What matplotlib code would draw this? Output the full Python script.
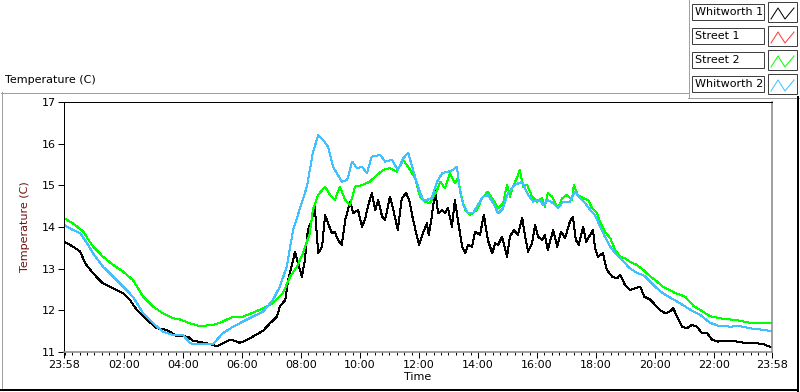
import matplotlib
matplotlib.use('Agg')
import matplotlib.pyplot as plt
from matplotlib.lines import Line2D
from matplotlib.patches import Rectangle

plt.rcParams['font.family'] = ['DejaVu Sans']

# minutes after 23:58 (start of the log)
whit2_t = [0, 18, 33, 47, 59, 79, 100, 120, 140, 161, 181, 201, 222, 242, 256, 262, 303, 323, 344, 372,
           405, 425, 439, 453, 466, 480, 494, 506, 517, 527, 537, 547, 565, 576, 586, 596, 606, 616, 626, 643,
           653, 667, 679, 690, 700, 710, 720, 730, 738, 748, 759, 769, 781, 791, 799, 805, 812, 822, 832, 842,
           852, 862, 873, 883, 893, 903, 917, 932, 942, 954, 968, 974, 984, 995, 1005, 1015, 1029, 1039, 1050, 1060,
           1070, 1080, 1090, 1100, 1111, 1121, 1131, 1141, 1151, 1165, 1178, 1192, 1206, 1218, 1232, 1253, 1273, 1294, 1314, 1334,
           1355, 1375, 1395, 1416, 1440]
whit2_v = [14.05, 13.93, 13.85, 13.61, 13.37, 13.05, 12.81, 12.57, 12.33, 11.93, 11.69, 11.49, 11.41, 11.41, 11.22, 11.19, 11.19, 11.45, 11.61, 11.78,
           11.97, 12.25, 12.57, 13.05, 13.93, 14.45, 14.97, 15.77, 16.21, 16.09, 15.93, 15.45, 15.09, 15.13, 15.57, 15.41, 15.45, 15.29, 15.69, 15.73,
           15.57, 15.61, 15.37, 15.65, 15.78, 15.37, 14.97, 14.65, 14.65, 14.69, 15.09, 15.29, 15.33, 15.37, 15.45, 14.89, 14.53, 14.33, 14.33, 14.53,
           14.73, 14.77, 14.57, 14.33, 14.45, 14.81, 15.01, 15.09, 14.81, 14.61, 14.65, 14.53, 14.65, 14.57, 14.45, 14.61, 14.61, 14.85, 14.69, 14.57,
           14.41, 14.29, 14.01, 13.77, 13.53, 13.37, 13.25, 13.13, 13.01, 12.90, 12.85, 12.69, 12.53, 12.41, 12.31, 12.17, 12.02, 11.89, 11.70, 11.62,
           11.61, 11.62, 11.57, 11.54, 11.50]

street2_t = [0, 18, 39, 59, 79, 100, 120, 140, 161, 181, 201, 222, 236, 256, 277, 303, 323, 344, 364, 384,
             405, 425, 445, 460, 474, 486, 500, 506, 517, 531, 541, 551, 561, 572, 582, 592, 608, 622, 637, 649,
             663, 677, 690, 704, 714, 724, 734, 744, 759, 765, 775, 785, 795, 801, 810, 816, 826, 840, 850, 862,
             873, 883, 893, 901, 907, 913, 921, 927, 934, 942, 952, 962, 972, 978, 984, 993, 999, 1005, 1013, 1023,
             1033, 1037, 1045, 1056, 1066, 1074, 1084, 1090, 1100, 1111, 1121, 1131, 1141, 1151, 1165, 1178, 1192, 1206, 1218, 1232,
             1242, 1263, 1281, 1294, 1314, 1334, 1355, 1375, 1395, 1416, 1440]
street2_v = [14.21, 14.09, 13.89, 13.53, 13.29, 13.09, 12.93, 12.73, 12.33, 12.09, 11.93, 11.81, 11.78, 11.69, 11.62, 11.65, 11.73, 11.85, 11.85, 11.94,
             12.05, 12.17, 12.41, 12.81, 13.05, 13.37, 13.85, 14.41, 14.77, 14.97, 14.77, 14.65, 14.97, 14.65, 14.53, 14.97, 15.01, 15.09, 15.25, 15.37,
             15.41, 15.33, 15.61, 15.37, 15.17, 14.73, 14.61, 14.57, 14.89, 15.09, 14.93, 15.29, 15.05, 15.17, 14.65, 14.41, 14.29, 14.41, 14.69, 14.85,
             14.65, 14.45, 14.57, 15.01, 14.73, 14.97, 15.17, 15.37, 14.97, 15.01, 14.73, 14.61, 14.69, 14.49, 14.81, 14.73, 14.57, 14.45, 14.69, 14.77,
             14.65, 15.01, 14.77, 14.69, 14.65, 14.45, 14.33, 14.13, 13.89, 13.73, 13.45, 13.29, 13.25, 13.17, 13.09, 12.97, 12.82, 12.69, 12.57, 12.49,
             12.42, 12.33, 12.10, 12.01, 11.86, 11.81, 11.78, 11.75, 11.70, 11.69, 11.69]

whit1_t = [0, 18, 33, 43, 59, 79, 100, 120, 134, 148, 169, 189, 209, 230, 252, 262, 291, 311, 338, 358,
           372, 384, 405, 419, 433, 439, 450, 456, 470, 476, 484, 490, 496, 504, 510, 517, 525, 531, 537, 545,
           551, 557, 565, 572, 582, 588, 598, 606, 612, 618, 626, 633, 639, 647, 653, 663, 669, 679, 687, 696,
           702, 710, 718, 722, 730, 738, 742, 748, 755, 761, 769, 775, 781, 789, 795, 801, 810, 816, 822, 830,
           836, 846, 854, 862, 871, 877, 883, 891, 901, 907, 915, 923, 932, 938, 944, 952, 958, 964, 972, 978,
           984, 995, 1003, 1011, 1019, 1029, 1035, 1041, 1047, 1056, 1062, 1068, 1076, 1080, 1086, 1096, 1104, 1115, 1125, 1131,
           1141, 1151, 1161, 1172, 1180, 1192, 1212, 1223, 1232, 1239, 1247, 1257, 1267, 1277, 1287, 1298, 1308, 1318, 1330, 1349,
           1369, 1389, 1409, 1422, 1440]
whit1_v = [13.65, 13.53, 13.41, 13.13, 12.89, 12.65, 12.53, 12.41, 12.25, 12.01, 11.77, 11.57, 11.53, 11.38, 11.37, 11.27, 11.21, 11.14, 11.30, 11.22,
           11.29, 11.37, 11.51, 11.69, 11.85, 12.09, 12.25, 12.73, 13.41, 13.13, 12.81, 13.21, 13.93, 14.17, 14.49, 13.37, 13.53, 14.29, 14.09, 13.85,
           13.89, 13.69, 13.57, 14.17, 14.61, 14.33, 14.41, 14.01, 14.17, 14.49, 14.81, 14.41, 14.65, 14.25, 14.17, 14.73, 14.45, 13.93, 14.69, 14.81,
           14.65, 14.17, 13.77, 13.57, 13.85, 14.09, 13.81, 14.25, 14.89, 14.33, 14.41, 14.33, 14.45, 14.01, 14.65, 14.17, 13.53, 13.37, 13.57, 13.53,
           13.89, 13.81, 14.29, 13.69, 13.37, 13.61, 13.57, 13.77, 13.29, 13.77, 13.93, 13.81, 14.21, 13.77, 13.41, 13.61, 14.05, 13.77, 13.69, 13.81,
           13.45, 13.93, 13.53, 13.89, 13.73, 14.13, 14.25, 13.69, 13.57, 14.01, 13.65, 13.77, 13.93, 13.49, 13.29, 13.37, 12.97, 12.81, 12.77, 12.85,
           12.61, 12.49, 12.53, 12.57, 12.33, 12.26, 12.01, 11.93, 11.97, 12.05, 11.85, 11.61, 11.57, 11.65, 11.61, 11.45, 11.45, 11.30, 11.25, 11.27,
           11.25, 11.21, 11.21, 11.19, 11.11]

legend_names = ['Whitworth 1', 'Street 1', 'Street 2', 'Whitworth 2']
legend_colors = ['#000000', '#ff3838', '#00ff00', '#40c0ff']

tick_pos = [0, 122, 242, 362, 482, 602, 722, 842, 962, 1082, 1202, 1322, 1440]
tick_lab = ['23:58', '02:00', '04:00', '06:00', '08:00', '10:00', '12:00',
            '14:00', '16:00', '18:00', '20:00', '22:00', '23:58']
minor_pos = list(range(2, 1440, 15))

W, H = 800, 392
fig = plt.figure(figsize=(W / 100, H / 100), dpi=100)
fig.patch.set_facecolor('white')


def fx(x):
    return x / W


def fy(y):
    return 1 - y / H


def fline(xs, ys, color, lw=0.72, aa=False):
    fig.add_artist(Line2D([fx(x) for x in xs], [fy(y) for y in ys],
                          transform=fig.transFigure, color=color, lw=lw,
                          antialiased=aa))


# outer panel frame
fline([0.5, 688], [92.5, 92.5], '#a0a0a0')
fline([688.5, 688.5], [0, 97], '#a0a0a0')
fline([688, 800], [97.5, 97.5], '#a0a0a0')
fline([1.5, 1.5], [92, 390], '#a0a0a0')
fline([1, 798], [390, 390], '#000000', 1.44)
fline([797.5, 797.5], [97, 391], '#000000', 1.44)

fig.text(fx(5), fy(80), 'Temperature (C)', fontsize=8, ha='left', va='center')

# legend
for i, (name, col) in enumerate(zip(legend_names, legend_colors)):
    top = 4 + i * 24
    fig.add_artist(Rectangle((fx(692), fy(top + 16)), fx(72), 16 / H,
                             transform=fig.transFigure, facecolor='white',
                             edgecolor='#404040', lw=0.72))
    fig.text(fx(695), fy(top + 8), name, fontsize=8, ha='left', va='center')
    fig.add_artist(Rectangle((fx(768), fy(top + 18)), fx(29), 20 / H,
                             transform=fig.transFigure, facecolor='white',
                             edgecolor='#404040', lw=0.72))
    fline([771, 778, 785, 794], [top + 15, top + 4, top + 15, top + 4], col, 0.72, True)

ax = fig.add_axes([fx(64), fy(352), fx(708), (352 - 102) / H])
for t, v, c in [(whit1_t, whit1_v, legend_colors[0]),
                (street2_t, street2_v, legend_colors[2]),
                (whit2_t, whit2_v, legend_colors[3])]:
    ax.plot(t, v, color=c, lw=0.72, antialiased=False)

ax.set_xlim(0, 1440)
ax.set_ylim(11, 17)
ax.set_xticks(tick_pos)
ax.set_xticklabels(tick_lab)
ax.set_xticks(minor_pos, minor=True)
ax.set_yticks([11, 12, 13, 14, 15, 16, 17])
ax.tick_params(axis='both', which='major', length=4, width=0.72, labelsize=8, pad=2)
ax.tick_params(axis='x', which='minor', length=2.5, width=0.72)
ax.tick_params(axis='y', which='minor', left=False)
for s in ['left', 'top']:
    ax.spines[s].set_color('black')
    ax.spines[s].set_linewidth(0.72)
for s in ['right', 'bottom']:
    ax.spines[s].set_color('#909090')
    ax.spines[s].set_linewidth(1.2)

ax.set_xlabel('Time', fontsize=8, labelpad=1)
ax.set_ylabel('Temperature (C)', fontsize=8, color='#6e1010', labelpad=8)

fig.savefig('out.png', dpi=100)
